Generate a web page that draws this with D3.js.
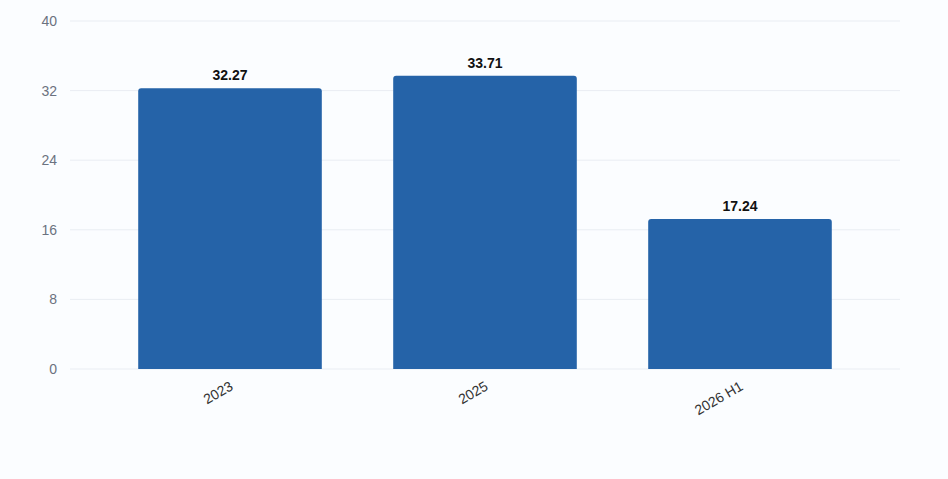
<!DOCTYPE html>
<html>
<head>
<meta charset="utf-8">
<script src="https://cdn.jsdelivr.net/npm/d3@7"></script>
<style>
body { margin: 0; background: #fbfdff; }
svg { font-family: "Liberation Sans", Arial, sans-serif; }
</style>
</head>
<body>
<svg id="chart" width="948" height="479"></svg>
<script>
const categories = ['2023', '2025', '2026 H1'];
const values = [32.27, 33.71, 17.24];
const yTicks = [0, 8, 16, 24, 32, 40];

const svg = d3.select('#chart');
const plotLeft = 70, plotRight = 900, plotTop = 21, plotBottom = 369;

const x = d3.scaleBand()
    .domain(categories)
    .range([plotLeft, plotRight])
    .paddingInner(0.28)
    .paddingOuter(0.2675);

const y = d3.scaleLinear().domain([0, 40]).range([plotBottom, plotTop]);

// grid
svg.append('g').selectAll('line')
    .data(yTicks)
    .enter().append('line')
    .attr('x1', plotLeft).attr('x2', plotRight)
    .attr('y1', d => y(d)).attr('y2', d => y(d))
    .attr('stroke', '#e9edf3').attr('stroke-width', 1);

// y labels
svg.append('g').selectAll('text')
    .data(yTicks)
    .enter().append('text')
    .attr('x', 57).attr('y', d => y(d))
    .attr('dy', '0.35em')
    .attr('text-anchor', 'end')
    .attr('font-size', 14)
    .attr('fill', '#6b7280')
    .text(d => d);

// bars
svg.append('g').selectAll('path')
    .data(categories)
    .enter().append('path')
    .attr('fill', '#2563a8')
    .attr('d', (d, i) => {
        const x0 = x(d), w = x.bandwidth(), y0 = y(values[i]), r = 3;
        return `M${x0},${plotBottom}V${y0 + r}Q${x0},${y0} ${x0 + r},${y0}H${x0 + w - r}Q${x0 + w},${y0} ${x0 + w},${y0 + r}V${plotBottom}Z`;
    });

// value labels
svg.append('g').selectAll('text')
    .data(categories)
    .enter().append('text')
    .attr('x', d => x(d) + x.bandwidth() / 2)
    .attr('y', (d, i) => y(values[i]) - 8)
    .attr('text-anchor', 'middle')
    .attr('font-size', 14)
    .attr('font-weight', 'bold')
    .attr('fill', '#111')
    .text((d, i) => values[i].toFixed(2));

// x labels
svg.append('g').selectAll('text')
    .data(categories)
    .enter().append('text')
    .attr('transform', d => `translate(${x(d) + x.bandwidth() / 2 + 4},${plotBottom + 20}) rotate(-30)`)
    .attr('text-anchor', 'end')
    .attr('font-size', 14)
    .attr('fill', '#333')
    .text(d => d);
</script>
</body>
</html>
